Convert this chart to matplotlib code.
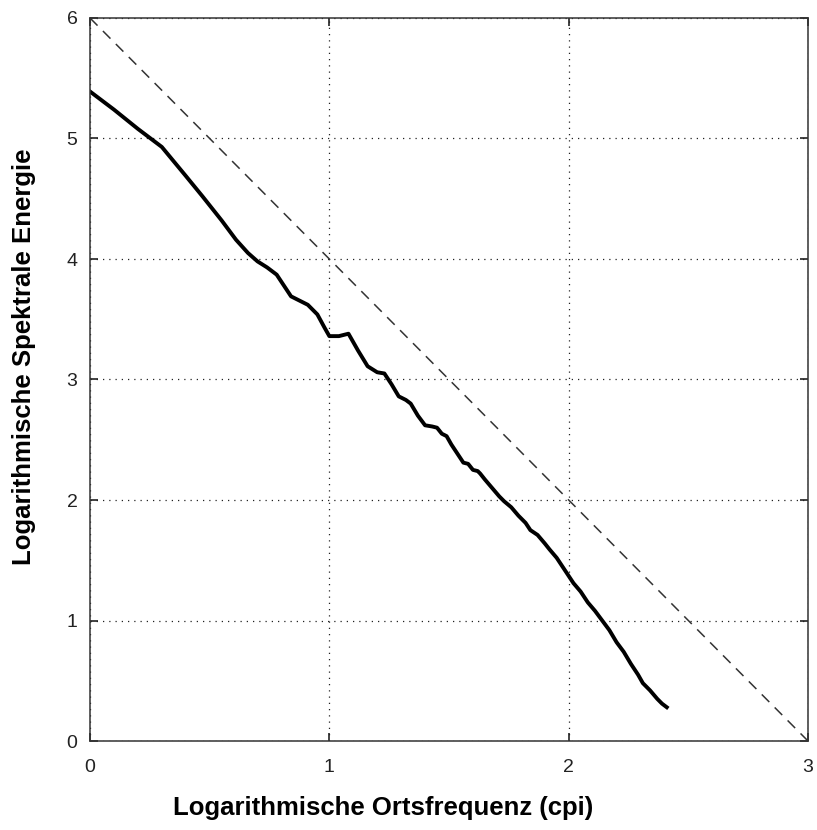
import numpy as np
import matplotlib
matplotlib.use('Agg')
import matplotlib.pyplot as plt

plt.rcParams['font.family'] = ['Liberation Sans', 'DejaVu Sans']

# log spatial frequency (cpi) and log spectral energy of the measured spectrum
log_freq = [0.00, 0.10, 0.20, 0.30, 0.40, 0.47, 0.55, 0.61, 0.66, 0.70,
            0.74, 0.78, 0.81, 0.84, 0.88, 0.91, 0.95, 0.98, 1.00, 1.04,
            1.08, 1.12, 1.16, 1.20, 1.23, 1.26, 1.29, 1.32, 1.34, 1.37,
            1.40, 1.43, 1.45, 1.47, 1.49, 1.51, 1.53, 1.56, 1.58, 1.60,
            1.62, 1.63, 1.65, 1.68, 1.71, 1.73, 1.76, 1.79, 1.82, 1.84,
            1.87, 1.90, 1.92, 1.95, 1.98, 2.02, 2.05, 2.08, 2.11, 2.14,
            2.17, 2.20, 2.23, 2.26, 2.29, 2.31, 2.34, 2.37, 2.39, 2.41]
log_energy = [5.39, 5.24, 5.08, 4.93, 4.69, 4.52, 4.32, 4.16, 4.05, 3.98,
              3.93, 3.87, 3.78, 3.69, 3.65, 3.62, 3.54, 3.43, 3.36, 3.36,
              3.38, 3.24, 3.11, 3.06, 3.05, 2.96, 2.86, 2.83, 2.80, 2.70,
              2.62, 2.61, 2.60, 2.55, 2.53, 2.46, 2.40, 2.31, 2.30, 2.25,
              2.24, 2.22, 2.17, 2.10, 2.03, 1.99, 1.94, 1.87, 1.81, 1.75,
              1.71, 1.64, 1.59, 1.52, 1.43, 1.31, 1.24, 1.15, 1.08, 1.00,
              0.92, 0.82, 0.74, 0.64, 0.55, 0.48, 0.42, 0.35, 0.31, 0.28]

# reference slope -2 line
ref_x = [0, 3]
ref_y = [6, 0]

fig = plt.figure(figsize=(8.17, 8.30), dpi=100)
ax = fig.add_axes([90/817, 1 - 741/830, 718/817, 723/830])

ax.plot(ref_x, ref_y, color='#333333', lw=1.1, dashes=(7, 5))
ax.plot(log_freq, log_energy, color='black', lw=2.8, solid_joinstyle='round')

ax.set_xlim(0, 3)
ax.set_ylim(0, 6)
ax.set_xticks([0, 1, 2, 3])
ax.set_yticks([0, 1, 2, 3, 4, 5, 6])
ax.grid(True, color='#222222', lw=0.9, linestyle=(0, (1, 4)))
ax.tick_params(direction='in', length=6, width=1.2, top=True, right=True,
               labelsize=14, colors='#222222')
ax.tick_params(axis='x', pad=13)
ax.tick_params(axis='y', pad=9)
for sp in ax.spines.values():
    sp.set_linewidth(1.1)
    sp.set_color('#333333')

fig.text(383/817, 1 - 808/830, 'Logarithmische Ortsfrequenz (cpi)',
         ha='center', va='center', fontsize=18.5, fontweight='bold')
fig.text(24/817, 1 - 357/830, 'Logarithmische Spektrale Energie',
         ha='center', va='center', rotation=90, fontsize=18.5, fontweight='bold')

fig.savefig('out.png', dpi=100)
